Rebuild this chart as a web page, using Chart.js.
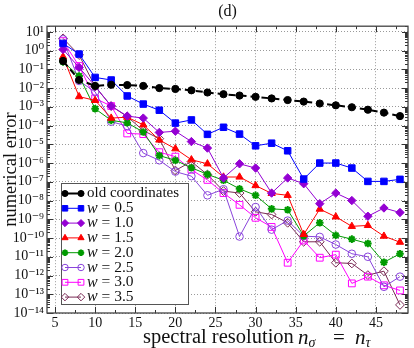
<!DOCTYPE html>
<html>
<head>
<meta charset="utf-8">
<script src="https://cdn.jsdelivr.net/npm/chart.js@4.4.1/dist/chart.umd.min.js"></script>
<style>
  html, body { margin: 0; padding: 0; background: #fff; }
</style>
</head>
<body>
<canvas id="errorChart" width="414" height="348"></canvas>
<script>
// spectral resolution n_sigma = n_tau
const resolution = [6, 8, 10, 12, 14, 16, 18, 20, 22, 24, 26, 28, 30, 32, 34, 36, 38, 40, 42, 44, 46, 48];

const oldCoordinates = [2.8e-1, 2.7e-2, 1.3e-2, 1.5e-2, 1.45e-2, 1.3e-2, 1.0e-2, 9.0e-3, 7.6e-3, 5.8e-3, 4.7e-3,
  4.0e-3, 3.4e-3, 2.8e-3, 2.3e-3, 1.9e-3, 1.5e-3, 1.2e-3, 9.5e-4, 7.0e-4, 4.9e-4, 3.2e-4];
const w05 = [2.4, 6.5e-1, 3.7e-2, 2.7e-2, 3.8e-3, 1.4e-3, 6.6e-4, 1.35e-4, 2.0e-4, 3.4e-5, 8.1e-5,
  3.5e-5, 8.3e-6, 1.15e-5, 4.5e-6, 1.4e-7, 1.0e-6, 1.0e-6, 5.4e-7, 1.05e-7, 1.05e-7, 1.35e-7];
const w10 = [1.15, 1.26e-1, 1.26e-2, 1.1e-3, 3.2e-4, 2.5e-4, 4.3e-5, 5.0e-5, 1.4e-5, 6.3e-6, 1.6e-7,
  9.1e-7, 5.4e-7, 2.5e-8, 1.6e-7, 7.9e-8, 6.8e-9, 2.5e-8, 1.0e-8, 1.45e-9, 4.0e-9, 2.3e-9];
const w15 = [4.7e-1, 3.5e-3, 2.2e-3, 2.5e-4, 2.8e-4, 1.1e-4, 1.7e-5, 5.8e-6, 1.5e-6, 9.1e-7, 1.8e-7,
  1.8e-7, 6.3e-8, 2.4e-8, 1.9e-8, 1.55e-10, 3.5e-9, 1.35e-9, 4.2e-10, 4.7e-10, 1.26e-10, 6.0e-11];
const w20 = [2.5e-1, 4.4e-2, 7.9e-4, 1.9e-4, 1.4e-4, 4.5e-5, 2.5e-6, 1.4e-6, 5.6e-7, 2.5e-7, 1.2e-7,
  4.2e-8, 1.9e-8, 3.6e-9, 3.2e-9, 1.3e-10, 6.5e-10, 1.4e-10, 8.7e-11, 5.1e-11, 5.1e-12, 1.45e-11];
const w25 = [4.0, 2.4e-2, 6.3e-3, 1.6e-4, 9.5e-5, 3.4e-6, 1.4e-6, 3.5e-7, 2.0e-7, 1.9e-8, 4.0e-8,
  1.2e-10, 4.5e-9, 2.8e-10, 8.5e-10, 1.26e-10, 1.15e-10, 4.5e-11, 1.45e-11, 1.0e-11, 2.5e-13, 8.7e-13];
const w30 = [3.2, 1.5e-1, 2.8e-3, 1.1e-3, 3.8e-5, 3.5e-5, 3.8e-6, 2.2e-6, 4.4e-7, 1.26e-7, 2.5e-8,
  5.9e-9, 1.2e-9, 3.9e-10, 4.8e-12, 7.4e-11, 8.9e-12, 1.3e-11, 3.8e-13, 8.7e-13, 3.0e-13, 1.6e-13];
const w35 = [4.5, 5.8e-1, 1.2e-2, 1.1e-3, 3.0e-4, 5.4e-5, 2.0e-5, 4.0e-7, 1.2e-6, 2.4e-7, 3.2e-8,
  2.5e-8, 2.5e-9, 1.8e-9, 6.5e-10, 6.3e-11, 6.3e-11, 4.8e-12, 4.4e-12, 1.05e-12, 1.7e-12, 2.7e-14];

const yTickExponents = [-14, -13, -12, -11, -10, -9, -8, -7, -6, -5, -4, -3, -2, -1, 0, 1];
const xTickLabels = [5, 10, 15, 20, 25, 30, 35, 40, 45];

const FONT = '"Liberation Serif", "DejaVu Serif", serif';
const SUP = { '-': '\u207B', '0': '\u2070', '1': '\u00B9', '2': '\u00B2', '3': '\u00B3', '4': '\u2074',
  '5': '\u2075', '6': '\u2076', '7': '\u2077', '8': '\u2078', '9': '\u2079' };

function pts(vals) {
  return resolution.map((n, i) => ({ x: n, y: vals[i] }));
}

function series(label, vals, color, style, radius, filled, extra) {
  return Object.assign({
    label: label,
    data: pts(vals),
    borderColor: color,
    backgroundColor: filled ? color : 'rgba(0,0,0,0)',
    pointBorderColor: color,
    pointBackgroundColor: filled ? color : 'rgba(0,0,0,0)',
    pointStyle: style,
    pointRadius: radius,
    pointBorderWidth: 1,
    borderWidth: 1,
    tension: 0,
    fill: false
  }, extra || {});
}

const datasets = [
  series('old coordinates', oldCoordinates, '#000000', 'circle', 3.6, true, { borderWidth: 2, borderDash: [7, 4] }),
  series('w = 0.5', w05, '#0000ff', 'rect', 4.6, true),
  series('w = 1.0', w10, '#9400d3', 'rectRot', 4.2, true),
  series('w = 1.5', w15, '#ff0000', 'triangle', 4.2, true),
  series('w = 2.0', w20, '#009a00', 'star', 3.8, true, { pointBorderWidth: 2 }),
  series('w = 2.5', w25, '#8a44dc', 'circle', 3.8, false),
  series('w = 3.0', w30, '#ff00ff', 'rect', 4.8, false),
  series('w = 3.5', w35, '#7a2a55', 'rectRot', 4.4, false)
];

// frame, inward tick marks, legend box and x-axis title
const decorPlugin = {
  id: 'decor',
  beforeDatasetsDraw(chart) {
    const ctx = chart.ctx, a = chart.chartArea, x = chart.scales.x, y = chart.scales.y;
    ctx.save();
    ctx.strokeStyle = '#333';
    ctx.lineWidth = 1;
    ctx.beginPath();
    yTickExponents.forEach(e => {
      for (let m = 1; m <= 9; m++) {
        const v = m * Math.pow(10, e);
        if (v > y.max) continue;
        const py = Math.round(y.getPixelForValue(v)) + 0.5;
        const len = m === 1 ? 6 : 3;
        ctx.moveTo(a.left, py); ctx.lineTo(a.left + len, py);
        ctx.moveTo(a.right, py); ctx.lineTo(a.right - len, py);
      }
    });
    for (let v = 5; v < x.max; v += 2.5) {
      const px = Math.round(x.getPixelForValue(v)) + 0.5;
      const len = v % 5 === 0 ? 6 : 3;
      ctx.moveTo(px, a.bottom); ctx.lineTo(px, a.bottom - len);
      ctx.moveTo(px, a.top); ctx.lineTo(px, a.top + len);
    }
    ctx.stroke();
    ctx.strokeStyle = '#444';
    ctx.lineWidth = 1.3;
    ctx.strokeRect(a.left, a.top, a.right - a.left, a.bottom - a.top);
    ctx.restore();
  },
  afterDatasetsDraw(chart) {
    const ctx = chart.ctx, a = chart.chartArea;
    ctx.save();
    // legend
    const left = a.left + 14, top = 183, right = 188, bottom = 304;
    ctx.fillStyle = '#fff';
    ctx.fillRect(left, top, right - left, bottom - top);
    ctx.strokeStyle = '#555';
    ctx.lineWidth = 1;
    ctx.strokeRect(left + 0.5, top + 0.5, right - left, bottom - top);
    const rowH = 14.8;
    chart.data.datasets.forEach((ds, i) => {
      const cy = top + 10.5 + i * rowH;
      const x0 = left + 4, x1 = left + 20;
      ctx.save();
      ctx.strokeStyle = ds.borderColor;
      ctx.lineWidth = ds.borderWidth;
      ctx.beginPath();
      ctx.moveTo(x0, cy); ctx.lineTo(x1, cy);
      ctx.stroke();
      ctx.fillStyle = ds.pointBackgroundColor;
      ctx.strokeStyle = ds.pointBorderColor;
      ctx.lineWidth = ds.pointBorderWidth;
      const opts = { pointStyle: ds.pointStyle, radius: ds.pointRadius * 0.85, borderWidth: ds.pointBorderWidth, rotation: 0 };
      if (Chart.helpers && Chart.helpers.drawPoint) {
        Chart.helpers.drawPoint(ctx, opts, x0, cy);
        Chart.helpers.drawPoint(ctx, opts, x1, cy);
      }
      ctx.restore();
      ctx.fillStyle = '#111';
      ctx.textBaseline = 'middle';
      let tx = left + 26;
      if (ds.label.startsWith('w')) {
        ctx.font = 'italic 16px ' + FONT;
        ctx.fillText('w', tx, cy);
        tx += ctx.measureText('w').width;
        ctx.font = '15.5px ' + FONT;
        ctx.fillText(' = ' + ds.label.slice(4), tx, cy);
      } else {
        ctx.font = '15px ' + FONT;
        ctx.fillText(ds.label, tx, cy);
      }
    });
    // x-axis title with italic n and subscripts
    ctx.fillStyle = '#111';
    ctx.textBaseline = 'middle';
    const ty = 338;
    ctx.font = '20.5px ' + FONT;
    ctx.fillText('spectral resolution', 143, ty);
    let tx = 298;
    ctx.font = 'italic 21px ' + FONT;
    ctx.fillText('n', tx, ty);
    tx += ctx.measureText('n').width;
    ctx.font = 'italic 14px ' + FONT;
    ctx.fillText('\u03C3', tx, ty + 5);
    ctx.font = '21px ' + FONT;
    ctx.fillText('=', 333, ty);
    tx = 355;
    ctx.font = 'italic 21px ' + FONT;
    ctx.fillText('n', tx, ty);
    tx += ctx.measureText('n').width;
    ctx.font = 'italic 14px ' + FONT;
    ctx.fillText('\u03C4', tx, ty + 5);
    ctx.restore();
  }
};

new Chart(document.getElementById('errorChart'), {
  type: 'line',
  data: { datasets: datasets },
  options: {
    responsive: false,
    animation: false,
    devicePixelRatio: 1,
    layout: { padding: { left: 0, right: 2, top: 0, bottom: 0 } },
    scales: {
      x: {
        type: 'linear',
        min: 4,
        max: 49,
        afterBuildTicks: function (scale) {
          scale.ticks = xTickLabels.map(v => ({ value: v }));
        },
        afterFit: function (scale) { scale.height = 35; },
        grid: { color: '#9a9a9a', lineWidth: 1, drawTicks: false },
        border: { display: false, dash: [1, 2] },
        ticks: { padding: 2, color: '#111', font: { family: FONT, size: 14 }, maxRotation: 0, autoSkip: false }
      },
      y: {
        type: 'logarithmic',
        min: 1e-14,
        max: 20,
        afterBuildTicks: function (scale) {
          scale.ticks = yTickExponents.map(e => ({ value: Math.pow(10, e) }));
        },
        afterFit: function (scale) { scale.width = 47; },
        grid: { color: '#9a9a9a', lineWidth: 1, drawTicks: false },
        border: { display: false, dash: [1, 2] },
        ticks: {
          padding: 3,
          autoSkip: false,
          color: '#111',
          font: { family: FONT, size: 14 },
          callback: function (value) {
            const e = String(Math.round(Math.log10(value)));
            return '10' + e.split('').map(c => SUP[c]).join('');
          }
        },
        title: {
          display: true,
          text: 'numerical error',
          color: '#111',
          font: { family: FONT, size: 18.5 },
          padding: { top: 0, bottom: 0 }
        }
      }
    },
    plugins: {
      legend: { display: false },
      tooltip: { enabled: false },
      title: {
        display: true,
        text: '(d)',
        fullSize: false,
        color: '#111',
        font: { family: FONT, size: 16, weight: 'normal' },
        padding: { top: 2, bottom: 5 }
      }
    }
  },
  plugins: [decorPlugin]
});
</script>
</body>
</html>
